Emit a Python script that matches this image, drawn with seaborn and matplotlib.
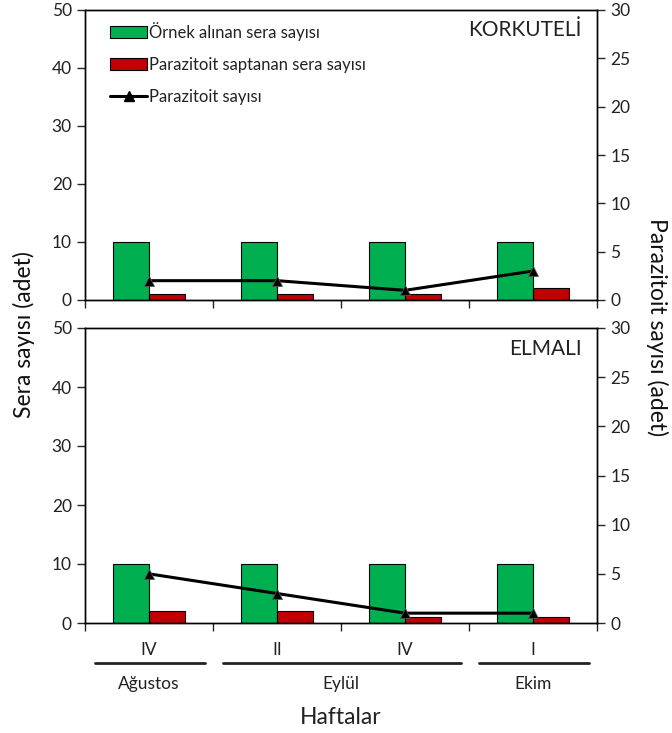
import matplotlib
matplotlib.use("Agg")
import matplotlib.pyplot as plt
import matplotlib.transforms as mtransforms
from matplotlib.patches import Patch
from matplotlib.lines import Line2D
import seaborn as sns
import pandas as pd
import numpy as np

# data
weeks = ["IV", "II", "IV", "I"]
months = ["Ağustos", "Eylül", "Eylül", "Ekim"]
week_ids = ["Ağustos IV", "Eylül II", "Eylül IV", "Ekim I"]

sampled_korkuteli = [10, 10, 10, 10]
detected_korkuteli = [1, 1, 1, 2]
parasitoid_korkuteli = [2, 2, 1, 3]

sampled_elmali = [10, 10, 10, 10]
detected_elmali = [2, 2, 1, 1]
parasitoid_elmali = [5, 3, 1, 1]

lbl_sampled = "Örnek alınan sera sayısı"
lbl_detected = "Parazitoit saptanan sera sayısı"
lbl_parasitoid = "Parazitoit sayısı"

green = "#00B050"
red = "#C00000"

sns.set_style("ticks")
plt.rcParams["font.family"] = ["Lato", "DejaVu Sans"]
plt.rcParams["axes.linewidth"] = 1.0

fig = plt.figure(figsize=(6.72, 7.33), dpi=100)
W, H = 672, 733
left, right = 85, 597
ax_top = fig.add_axes([left / W, 1 - 300 / H, (right - left) / W, 290 / H])
ax_bot = fig.add_axes([left / W, 1 - 623 / H, (right - left) / W, 295 / H])


def panel(ax, sampled, detected, parasitoid, title, show_labels):
    df = pd.DataFrame({
        "week": week_ids * 2,
        "value": sampled + detected,
        "series": [lbl_sampled] * 4 + [lbl_detected] * 4,
    })
    sns.barplot(data=df, x="week", y="value", hue="series", order=week_ids,
                palette={lbl_sampled: green, lbl_detected: red},
                saturation=1, width=0.57, edgecolor="black", linewidth=0.8,
                legend=False, ax=ax)
    ax.set_xlim(-0.5, len(weeks) - 0.5)
    ax.set_ylim(0, 50)
    ax.set_yticks(range(0, 51, 10))
    ax.set_xlabel("")
    ax.set_ylabel("")
    bounds = np.arange(len(weeks) + 1) - 0.5
    ax.set_xticks(bounds)
    ax.set_xticklabels([""] * len(bounds))
    ax.set_xticks(np.arange(len(weeks)), minor=True)
    if show_labels:
        ax.set_xticklabels(weeks, minor=True)
    else:
        ax.set_xticklabels([""] * len(weeks), minor=True)
    ax.tick_params(axis="x", which="major", direction="out", length=6, width=1)
    ax.tick_params(axis="x", which="minor", length=0, pad=14, labelsize=12.5,
                   labelcolor="#222222")
    ax.tick_params(axis="y", direction="out", length=6, width=1,
                   labelsize=12.5, labelcolor="#222222")
    for s in ax.spines.values():
        s.set_visible(True)
        s.set_color("black")

    ax2 = ax.twinx()
    sns.lineplot(x=np.arange(len(weeks)), y=parasitoid, color="black",
                 linewidth=2.2, marker="^", markersize=7,
                 markeredgecolor="#555555", markeredgewidth=0.6, ax=ax2)
    ax2.set_ylim(0, 30)
    ax2.set_yticks(range(0, 31, 5))
    ax2.tick_params(axis="y", direction="out", length=6, width=1,
                    labelsize=12.5, labelcolor="#222222")
    ax2.set_xlim(-0.5, len(weeks) - 0.5)
    ax2.set_ylabel("")
    for s in ax2.spines.values():
        s.set_visible(True)
        s.set_color("black")
    ax2.text(0.97, 0.93, title, transform=ax.transAxes, ha="right",
             va="center", fontsize=15, color="#222222")
    return ax2


ax2_top = panel(ax_top, sampled_korkuteli, detected_korkuteli,
                parasitoid_korkuteli, "KORKUTELİ", False)
ax2_bot = panel(ax_bot, sampled_elmali, detected_elmali,
                parasitoid_elmali, "ELMALI", True)

handles = [
    Patch(facecolor=green, edgecolor="black", linewidth=0.8),
    Patch(facecolor=red, edgecolor="black", linewidth=0.8),
    Line2D([], [], color="black", linewidth=2.2, marker="^", markersize=7),
]
ax2_top.legend(handles, [lbl_sampled, lbl_detected, lbl_parasitoid],
               loc="upper left", bbox_to_anchor=(0.02, 1.01), frameon=False,
               fontsize=12, labelspacing=0.95, handlelength=2.2,
               handleheight=0.75, handletextpad=0.15, labelcolor="#222222")

# month groups under the week labels
trans = mtransforms.blended_transform_factory(ax_bot.transData, ax_bot.transAxes)
groups = []
for i, m in enumerate(months):
    if groups and groups[-1][0] == m:
        groups[-1][2] = i
    else:
        groups.append([m, i, i])
for m, i0, i1 in groups:
    ax_bot.plot([i0 - 0.42, i1 + 0.44], [-0.136, -0.136], transform=trans,
                color="#222222", linewidth=2, clip_on=False)
    ax_bot.text((i0 + i1) / 2, -0.207, m, transform=trans, ha="center",
                va="center", fontsize=12.5, color="#222222")

fig.text(0.5 * (left + right) / W, 1 - 717 / H, "Haftalar", ha="center",
         va="center", fontsize=16.5, color="#222222")
fig.text(24 / W, 1 - 335 / H, "Sera sayısı (adet)", rotation=90,
         ha="center", va="center", fontsize=16.5, color="#111111")
fig.text(657 / W, 1 - 327 / H, "Parazitoit sayısı (adet)", rotation=270,
         ha="center", va="center", fontsize=16.5, color="#111111")

fig.savefig("out.png", dpi=100)
